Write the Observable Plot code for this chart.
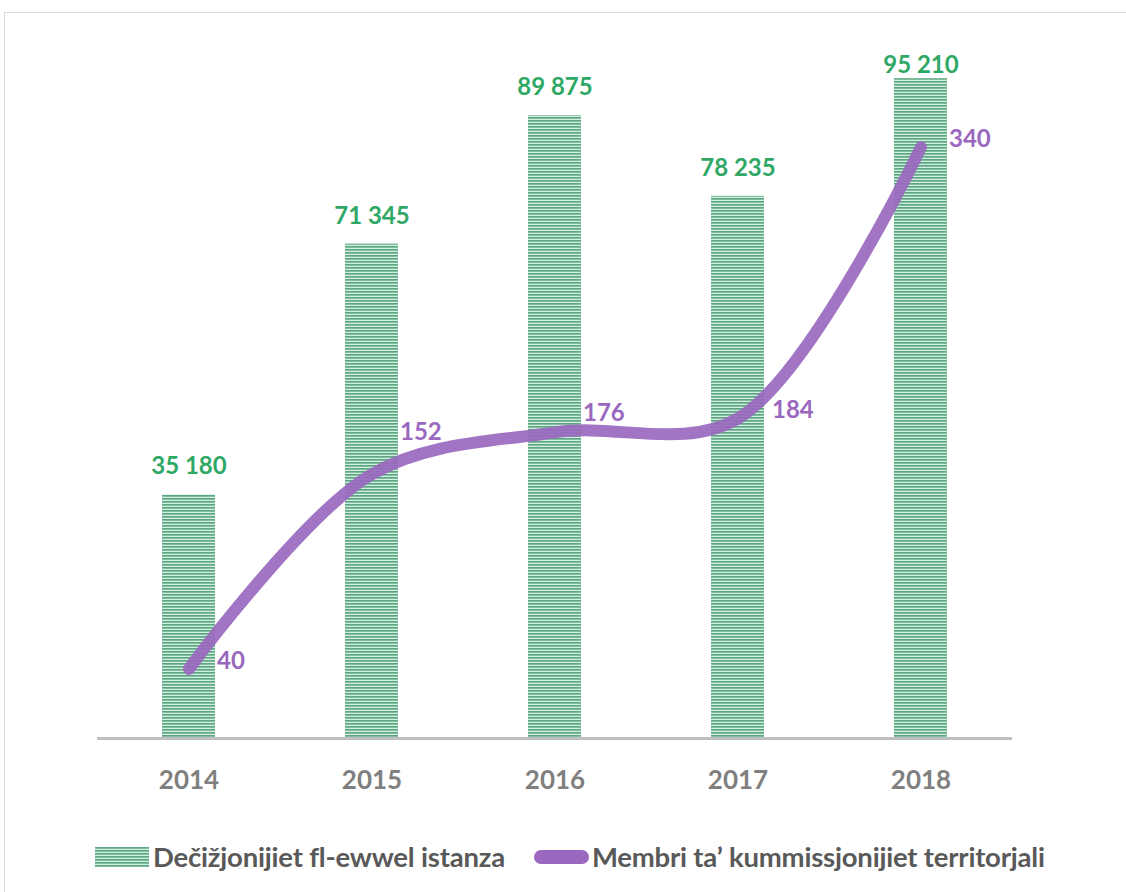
<!DOCTYPE html>
<html>
<head>
<meta charset="utf-8">
<script src="https://cdn.jsdelivr.net/npm/d3@7"></script>
<script src="https://cdn.jsdelivr.net/npm/@observablehq/plot@0.6"></script>
<style>
  html, body { margin: 0; padding: 0; background: #fff; }
  body { width: 1126px; height: 892px; position: relative; overflow: hidden; font-family: Lato, "Open Sans", sans-serif; }
  #frame { position: absolute; left: 4px; top: 12px; width: 1200px; height: 1000px; border: 1px solid #d9d9d9; box-sizing: border-box; }
  #chart { position: absolute; left: 0; top: 0; }
  #legend { position: absolute; left: 95px; top: 840px; width: 1031px; display: flex; align-items: center; font-size: 27.5px; font-weight: bold; color: #595959; white-space: nowrap; letter-spacing: -0.2px; }
  #legend .item { display: flex; align-items: center; flex-shrink: 0; }
  #legend svg { flex-shrink: 0; }
  #legend .sw-line { width: 55px; height: 14px; border-radius: 7px; background: #9a68bf; margin-right: 3px; flex-shrink: 0; }
</style>
</head>
<body>
<div id="frame"></div>
<div id="chart"></div>
<div id="legend">
  <div class="item"><svg width="54" height="20" style="margin-right:4px"><rect width="54" height="20" fill="url(#stripes)"/></svg><span id="lg0"></span></div>
  <div class="item" style="margin-left:29px"><div class="sw-line"></div><span id="lg1"></span></div>
</div>
<script>
const years = ["2014", "2015", "2016", "2017", "2018"];
const decisions = [35180, 71345, 89875, 78235, 95210];
const members = [40, 152, 176, 184, 340];
const seriesNames = ["Dečižjonijiet fl-ewwel istanza", "Membri ta’ kummissjonijiet territorjali"];

document.getElementById("lg0").textContent = seriesNames[0];
document.getElementById("lg1").textContent = seriesNames[1];

const barData = years.map((y, i) => ({year: y, value: decisions[i]}));
const lineData = years.map((y, i) => ({year: y, value: members[i]}));
const k = 251; // secondary axis scaling factor
const labelGap = 4050;   // label offset above bar top, in data units
const labelCap = 97100;  // labels kept inside the plot area (as Excel does)
const fmt = v => d3.format(",")(v).replace(/,/g, " ");

const green = "#2fa865";
const purple = "#9a68bf";

const chart = Plot.plot({
  width: 1126,
  height: 820,
  marginLeft: 97,
  marginRight: 114,
  marginTop: 45,
  marginBottom: 82,
  style: {background: "transparent", fontFamily: "Lato, 'Open Sans', sans-serif"},
  x: {domain: years, paddingInner: 0.71, paddingOuter: 0.355, label: null, tickSize: 0, tickPadding: 32},
  y: {domain: [0, 100000], axis: null},
  marks: [
    Plot.barY(barData, {x: "year", y: "value", fill: "url(#stripes)"}),
    Plot.ruleY([0], {stroke: "#bfbfbf", strokeWidth: 3}),
    Plot.text(barData, {x: "year", y: d => Math.min(d.value + labelGap, labelCap), text: d => fmt(d.value), fill: green, fontSize: 24, fontWeight: "bold"}),
    Plot.line(lineData, {x: "year", y: d => d.value * k, curve: "catmull-rom", stroke: purple, strokeWidth: 12, strokeLinecap: "round", strokeOpacity: 0.92}),
    Plot.text(lineData, {x: "year", y: d => d.value * k, text: d => String(d.value), textAnchor: "start", dx: 28, dy: -8, fill: purple, fontSize: 24, fontWeight: "bold"})
  ]
});

// pattern defs
const ns = "http://www.w3.org/2000/svg";
const defs = document.createElementNS(ns, "defs");
defs.innerHTML = `<pattern id="stripes" patternUnits="userSpaceOnUse" width="8" height="3">
  <rect width="8" height="3" fill="#d2f0e2"/>
  <rect width="8" height="1.7" fill="#5ea682"/>
</pattern>`;
chart.insertBefore(defs, chart.firstChild);

chart.querySelectorAll("[aria-label='x-axis tick label']").forEach(g => {
  g.setAttribute("font-size", "26");
  g.setAttribute("font-weight", "bold");
  g.setAttribute("fill", "#7f7f7f");
});
document.getElementById("chart").appendChild(chart);

// Nudge line labels so they do not sit on top of the thick line
(function avoidLine() {
  const path = chart.querySelector("g[aria-label='line'] path");
  const textGroups = chart.querySelectorAll("g[aria-label='text']");
  if (!path || textGroups.length < 2) return;
  const texts = textGroups[textGroups.length - 1].querySelectorAll("text");
  const ctm = path.getScreenCTM();
  const L = path.getTotalLength();
  const pts = [];
  for (let s = 0; s <= L; s += 2) {
    const p = path.getPointAtLength(s);
    const pt = chart.createSVGPoint(); pt.x = p.x; pt.y = p.y;
    pts.push(pt.matrixTransform(ctm));
  }
  const clearance = 8;
  const cands = [];
  for (let sx = 0; sx <= 24; sx++) for (let sy = 0; sy >= -50; sy--) cands.push([sx, sy]);
  cands.sort((a, b) => (a[0] + Math.abs(a[1])) - (b[0] + Math.abs(b[1])));
  texts.forEach(t => {
    const r = t.getBoundingClientRect();
    const cy = r.top + r.height / 2 + 1;
    const box = {x0: r.left + 1, x1: r.right - 1, y0: cy - 9, y1: cy + 9};
    const hits = (sx, sy) => pts.some(p => {
      const ddx = Math.max(box.x0 + sx - p.x, 0, p.x - (box.x1 + sx));
      const ddy = Math.max(box.y0 + sy - p.y, 0, p.y - (box.y1 + sy));
      return Math.hypot(ddx, ddy) < clearance;
    });
    const best = cands.find(([sx, sy]) => !hits(sx, sy));
    if (best && (best[0] || best[1])) {
      const tr = t.getAttribute("transform") || "";
      t.setAttribute("transform", `translate(${best[0]},${best[1]}) ${tr}`);
    }
  });
})();
</script>
</body>
</html>
